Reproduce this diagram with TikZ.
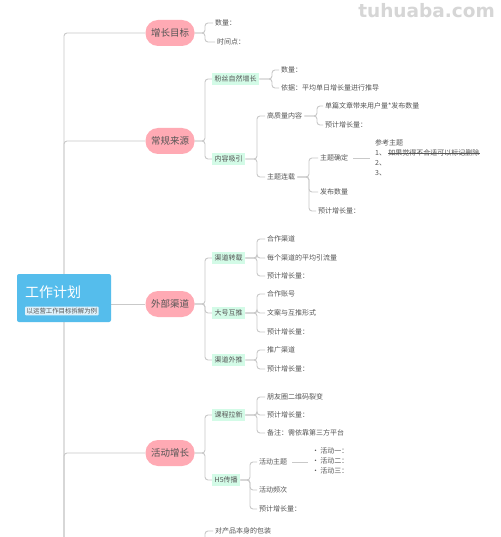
\documentclass[tikz,border=0pt]{standalone}
\usepackage{fontspec}
\setmainfont{Noto Sans CJK SC}
\newfontfamily\wmfont{DejaVu Sans}
\usetikzlibrary{backgrounds}
\definecolor{linegray}{HTML}{C9C9C9}
\definecolor{rootblue}{HTML}{55BDEC}
\definecolor{subblue}{HTML}{DDF1FB}
\definecolor{pinkfill}{HTML}{FFAAB4}
\definecolor{mint}{HTML}{D3FBE7}
\definecolor{txt}{HTML}{555555}
\definecolor{wmgray}{HTML}{D6D6D6}
\begin{document}
\begin{tikzpicture}[x=1pt,y=-1pt,
 conn/.style={draw=linegray, line width=0.9pt, rounded corners=3pt},
 mainnode/.style={fill=pinkfill, rounded corners=12.5pt, minimum width=49pt, minimum height=26pt, inner sep=2pt, font=\fontsize{9.5}{11}\selectfont, text=txt},
 subnode/.style={fill=mint, inner sep=2.5pt, minimum height=12pt, font=\fontsize{7}{8}\selectfont, text=txt, anchor=west},
 leaf/.style={inner sep=2pt, font=\fontsize{7}{8}\selectfont, text=txt, anchor=west},
]
\useasboundingbox (0,0) rectangle (500,537);

% watermark
\node[text=wmgray, font=\wmfont\bfseries\fontsize{18.5}{20}\selectfont, anchor=east, inner sep=0pt] (wm) at (495,11) {tuhuaba.com};

% root
\node[fill=rootblue, rounded corners=2pt, minimum width=94pt, minimum height=48pt, inner sep=0pt] (root) at (64,298) {};
\node[text=white, font=\fontsize{14}{16}\selectfont, anchor=west, inner sep=0pt] (rt) at (25,292) {工作计划};
\node[fill=subblue, text=txt, font=\fontsize{6.4}{7}\selectfont, anchor=west, inner sep=1.5pt, rounded corners=1pt] (rs) at (25,311) {以运营工作目标拆解为例};

% coordinates
\coordinate (trunk) at (64,537);
\coordinate (bxA) at (205,0);
\coordinate (bxB) at (257,0);

% main nodes
\node[mainnode] (g1) at (170,33) {增长目标};
\node[mainnode] (g2) at (170,141) {常规来源};
\node[mainnode] (g3) at (170,304) {外部渠道};
\node[mainnode] (g4) at (170,453) {活动增长};

% 增长目标
\node[leaf] (a1) at (213,23) {数量：};
\node[leaf] (a2) at (215,42) {时间点：};

% 常规来源
\node[subnode] (s1) at (212,79) {粉丝自然增长};
\node[subnode] (s2) at (212,159) {内容吸引};
\coordinate (bxs1) at (272,0);
\node[leaf] (b1) at (279,70) {数量：};
\node[leaf] (b2) at (279,88) {依据：平均单日增长量进行推导};
\node[leaf] (c1) at (265,116) {高质量内容};
\node[leaf] (c2) at (265,177) {主题连载};
\coordinate (bxc1) at (317,0);
\node[leaf] (d1) at (323,106) {单篇文章带来用户量*发布数量};
\node[leaf] (d2) at (323,125) {预计增长量：};
\coordinate (bxc2) at (309,0);
\node[leaf] (e1) at (318,158) {主题确定};
\node[leaf] (e2) at (318,192) {发布数量};
\node[leaf] (e3) at (316,211) {预计增长量：};
\coordinate (fend) at (370,158);
\node[leaf] (f0) at (373,143) {参考主题};
\node[leaf] (f1) at (373,153) {1、};
\node[leaf, inner xsep=0pt] (fs) at (f1.east) {如果觉得不合适可以标记删除};
\node[leaf] (f2) at (373,163) {2、};
\node[leaf] (f3) at (373,173) {3、};
\draw[txt, line width=0.5pt] (fs.west) -- (fs.east);

% 外部渠道
\node[subnode] (s3) at (212,258) {渠道转载};
\node[subnode] (s4) at (212,313) {大号互推};
\node[subnode] (s5) at (212,360) {渠道外推};
\node[leaf] (h1) at (265,239) {合作渠道};
\node[leaf] (h2) at (265,258) {每个渠道的平均引流量};
\node[leaf] (h3) at (265,276) {预计增长量：};
\node[leaf] (i1) at (265,294) {合作账号};
\node[leaf] (i2) at (265,313) {文案与互推形式};
\node[leaf] (i3) at (265,332) {预计增长量：};
\node[leaf] (j1) at (265,350) {推广渠道};
\node[leaf] (j2) at (265,369) {预计增长量：};

% 活动增长
\node[subnode] (s6) at (212,415) {课程拉新};
\node[subnode] (s7) at (212,480) {H5传播};
\node[leaf] (k1) at (265,397) {朋友圈二维码裂变};
\node[leaf] (k2) at (265,415) {预计增长量：};
\node[leaf] (k3) at (265,433) {备注：需依靠第三方平台};
\coordinate (bxs7) at (250,0);
\node[leaf] (m1) at (257,462) {活动主题};
\node[leaf] (m2) at (257,490) {活动频次};
\node[leaf] (m3) at (257,509) {预计增长量：};
\coordinate (nend) at (308,462);
\node[leaf] (n1) at (310,451) {•\,活动一：};
\node[leaf] (n2) at (310,461) {•\,活动二：};
\node[leaf] (n3) at (310,471) {•\,活动三：};

% bottom branch (cut off by the frame in the reference)
\coordinate (bot5) at (205,537);
\node[leaf] (p1) at (213,531) {对产品本身的包装};

\begin{scope}[on background layer]
\fill[white] (0,0) rectangle (500,537);
\draw[conn] (trunk) |- (g1.west);
\draw[conn] (trunk) |- (g2.west);
\draw[conn] (trunk) |- (g4.west);
\draw[conn] (root.east |- g3.west) -- (g3.west);
\foreach \c in {a1,a2} \draw[conn] (g1.east) -- (bxA |- g1.east) |- (\c.west);
\foreach \c in {s1,s2} \draw[conn] (g2.east) -- (bxA |- g2.east) |- (\c.west);
\foreach \c in {b1,b2} \draw[conn] (s1.east) -- (bxs1 |- s1.east) |- (\c.west);
\foreach \c in {c1,c2} \draw[conn] (s2.east) -- (bxB |- s2.east) |- (\c.west);
\foreach \c in {d1,d2} \draw[conn] (c1.east) -- (bxc1 |- c1.east) |- (\c.west);
\foreach \c in {e1,e2,e3} \draw[conn] (c2.east) -- (bxc2 |- c2.east) |- (\c.west);
\draw[conn] ([xshift=3pt]e1.east) -- (fend);
\foreach \c in {s3,s4,s5} \draw[conn] (g3.east) -- (bxA |- g3.east) |- (\c.west);
\foreach \c in {h1,h2,h3} \draw[conn] (s3.east) -- (bxB |- s3.east) |- (\c.west);
\foreach \c in {i1,i2,i3} \draw[conn] (s4.east) -- (bxB |- s4.east) |- (\c.west);
\foreach \c in {j1,j2} \draw[conn] (s5.east) -- (bxB |- s5.east) |- (\c.west);
\foreach \c in {s6,s7} \draw[conn] (g4.east) -- (bxA |- g4.east) |- (\c.west);
\foreach \c in {k1,k2,k3} \draw[conn] (s6.east) -- (bxB |- s6.east) |- (\c.west);
\foreach \c in {m1,m2,m3} \draw[conn] (s7.east) -- (bxs7 |- s7.east) |- (\c.west);
\draw[conn] ([xshift=3pt]m1.east) -- (nend);
\draw[conn] (bot5) |- (p1.west);
\end{scope}
\end{tikzpicture}
\end{document}
